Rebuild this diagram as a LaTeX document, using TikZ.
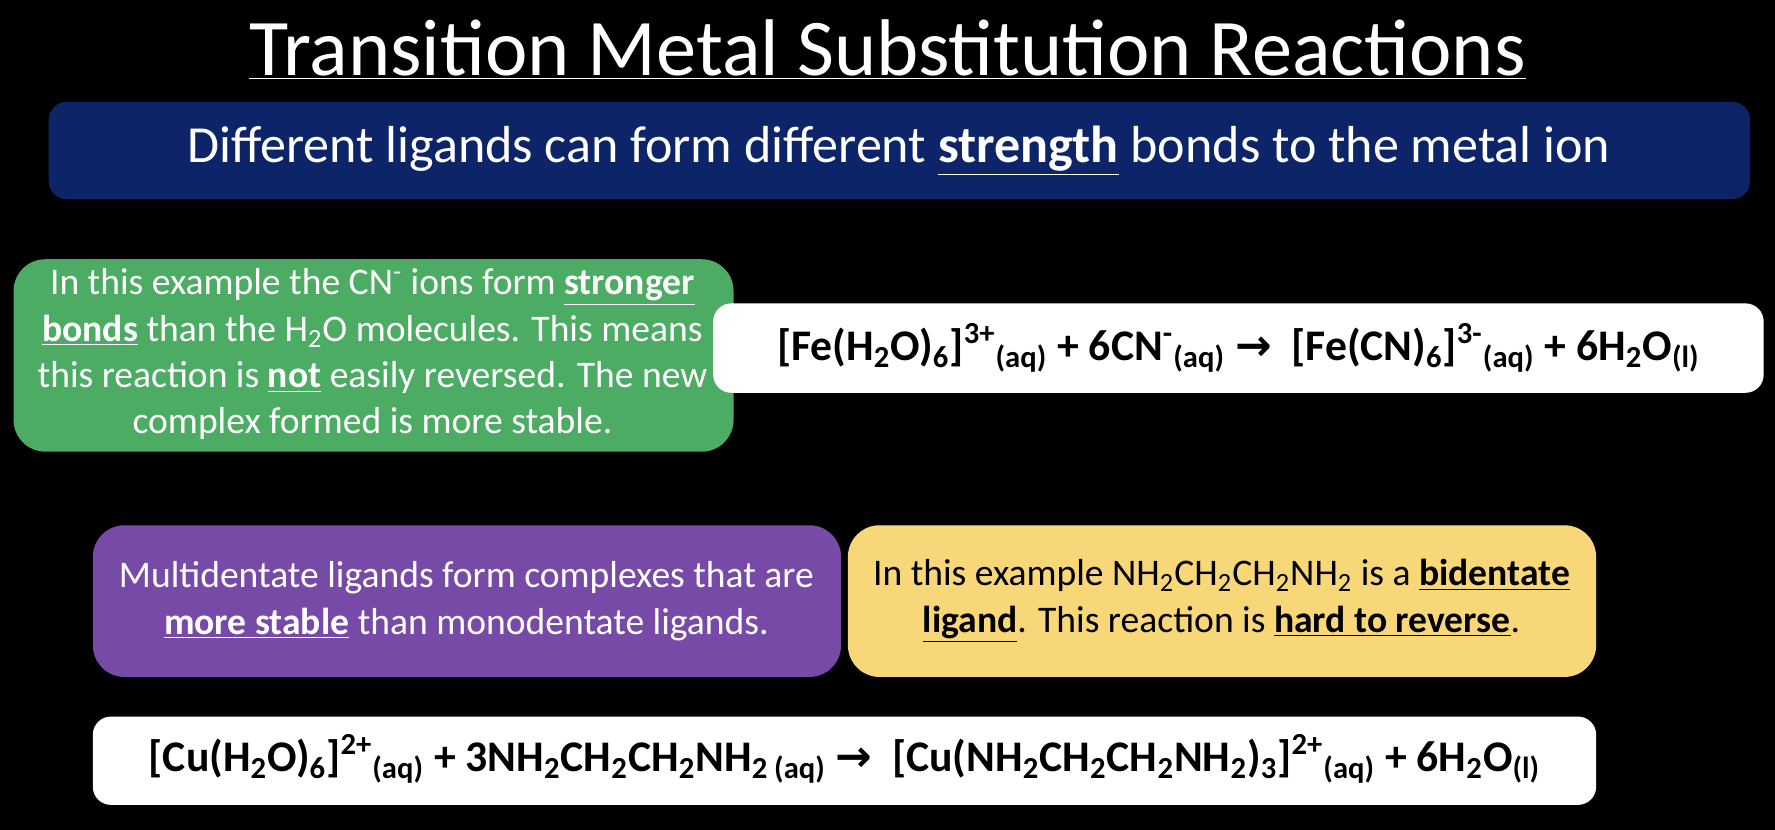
\documentclass[tikz,border=0pt]{standalone}
\usepackage{fontspec}
\setmainfont{Carlito}
\newfontfamily\arrowfont{DejaVu Sans}
\newcommand{\rarr}{{\arrowfont\bfseries →}}
\begin{document}
\begin{tikzpicture}[x=0.5pt,y=-0.5pt,
  txt/.style={text=white,align=center,font=\fontsize{16.6}{20.5}\selectfont},
  eq/.style={font=\bfseries\fontsize{19.3}{22}\selectfont,text=black}]
\definecolor{navy}{RGB}{14,36,104}
\definecolor{grn}{RGB}{76,172,100}
\definecolor{purp}{RGB}{118,74,166}
\definecolor{yel}{RGB}{248,215,120}
\fill[black] (0,0) rectangle (1568,733);
\useasboundingbox (0,0) rectangle (1568,733);
\node[text=white,font=\fontsize{35.5}{38}\selectfont] (title) at (784,44) {\underline{Transition Metal Substitution Reactions}};
\fill[navy,rounded corners=8pt] (43,90) rectangle (1546,176);
\node[text=white,font=\fontsize{23}{26}\selectfont] (sub) at (794,133) {Different ligands can form different \underline{\textbf{strength}} bonds to the metal ion};
\fill[grn,rounded corners=14pt] (12,229) rectangle (648,399);
\fill[white,rounded corners=8pt] (630,268) rectangle (1558,347);
\node[txt] (g) at (329,313) {In this example the CN\textsuperscript{-} ions form \underline{\textbf{stronger}}\\
\underline{\textbf{bonds}} than the H\textsubscript{2}O molecules. This means\\
this reaction is \underline{\textbf{not}} easily reversed. The new\\
complex formed is more stable.};
\node[eq] (e1) at (1094,307) {[Fe(H\textsubscript{2}O)\textsubscript{6}]\textsuperscript{3+}\textsubscript{(aq)} + 6CN\textsuperscript{-}\textsubscript{(aq)} \rarr\ \ [Fe(CN)\textsubscript{6}]\textsuperscript{3-}\textsubscript{(aq)} + 6H\textsubscript{2}O\textsubscript{(l)}};
\fill[purp,rounded corners=14pt] (82,464) rectangle (743,598);
\fill[yel,rounded corners=14pt] (749,464) rectangle (1410,598);
\node[txt] (p) at (412,531) {Multidentate ligands form complexes that are\\ \underline{\textbf{more stable}} than monodentate ligands.};
\node[txt,text=black] (y) at (1079,531) {In this example NH\textsubscript{2}CH\textsubscript{2}CH\textsubscript{2}NH\textsubscript{2} is a \underline{\textbf{bidentate}}\\ \underline{\textbf{ligand}}. This reaction is \underline{\textbf{hard to reverse}}.};
\fill[white,rounded corners=8pt] (82,633) rectangle (1410,711);
\node[eq] (e2) at (746,670) {[Cu(H\textsubscript{2}O)\textsubscript{6}]\textsuperscript{2+}\textsubscript{(aq)} + 3NH\textsubscript{2}CH\textsubscript{2}CH\textsubscript{2}NH\textsubscript{2 (aq)} \rarr\ \ [Cu(NH\textsubscript{2}CH\textsubscript{2}CH\textsubscript{2}NH\textsubscript{2})\textsubscript{3}]\textsuperscript{2+}\textsubscript{(aq)} + 6H\textsubscript{2}O\textsubscript{(l)}};
\end{tikzpicture}
\end{document}
